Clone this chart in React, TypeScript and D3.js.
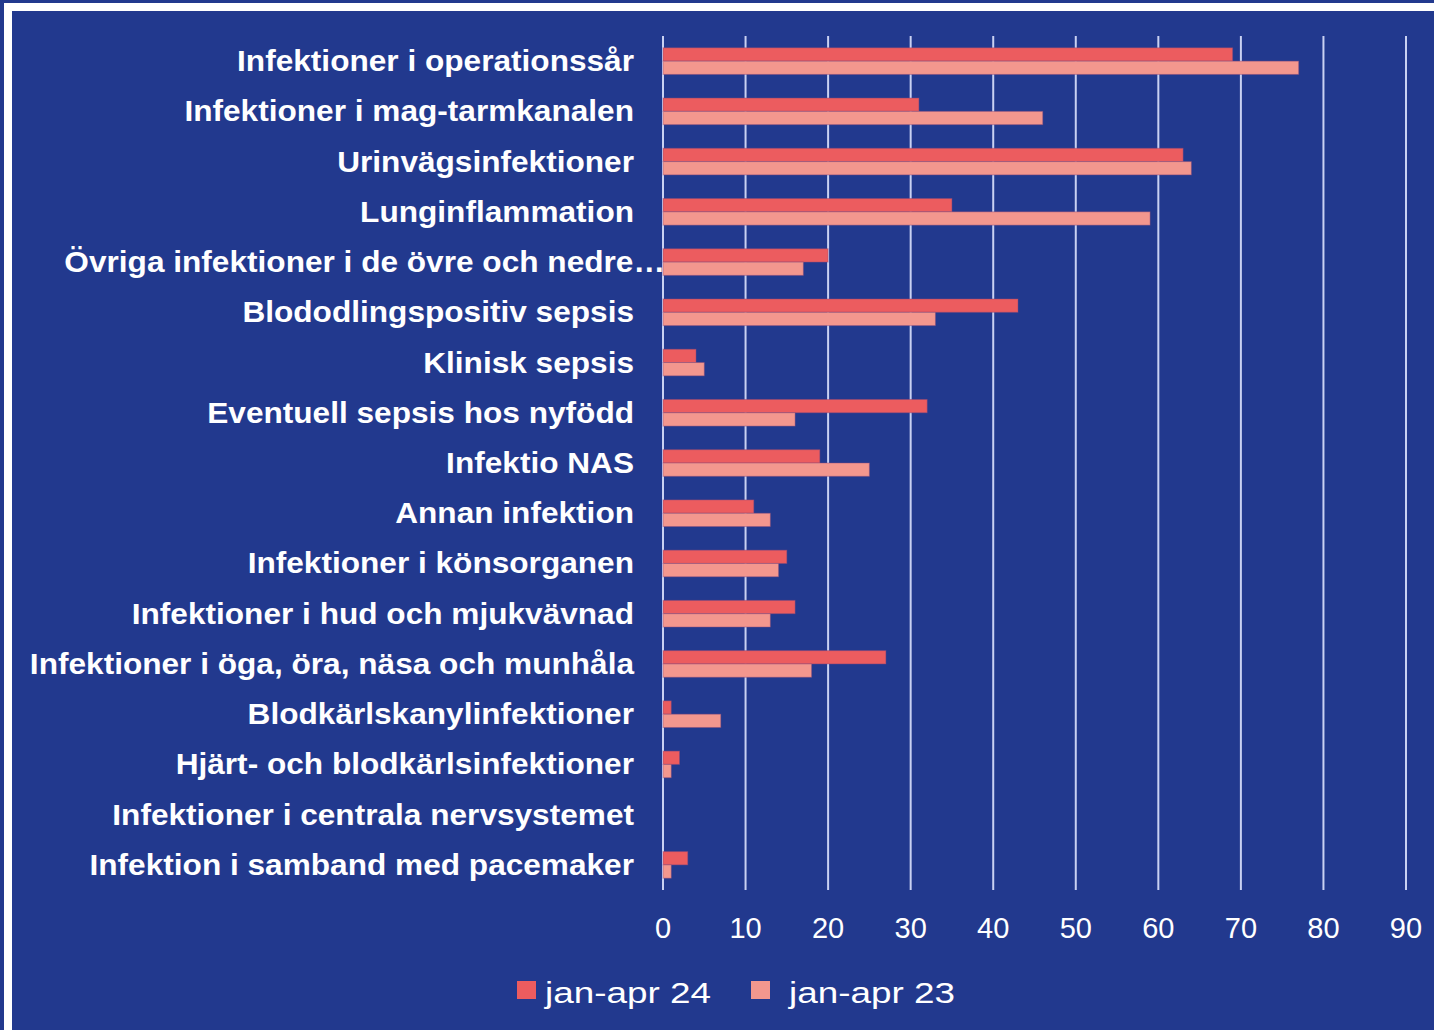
import React from "react";
import * as d3 from "d3";

const categories = [
  "Infektioner i operationssår",
  "Infektioner i mag-tarmkanalen",
  "Urinvägsinfektioner",
  "Lunginflammation",
  "Övriga infektioner i de övre och nedre…",
  "Blododlingspositiv sepsis",
  "Klinisk sepsis",
  "Eventuell sepsis hos nyfödd",
  "Infektio NAS",
  "Annan infektion",
  "Infektioner i könsorganen",
  "Infektioner i hud och mjukvävnad",
  "Infektioner i öga, öra, näsa och munhåla",
  "Blodkärlskanylinfektioner",
  "Hjärt- och blodkärlsinfektioner",
  "Infektioner i centrala nervsystemet",
  "Infektion i samband med pacemaker",
];

const values24 = [69, 31, 63, 35, 20, 43, 4, 32, 19, 11, 15, 16, 27, 1, 2, 0, 3];
const values23 = [77, 46, 64, 59, 17, 33, 5, 16, 25, 13, 14, 13, 18, 7, 1, 0, 1];

const seriesNames = ["jan-apr 24", "jan-apr 23"];
const tickValues = [0, 10, 20, 30, 40, 50, 60, 70, 80, 90];

const W = 1434;
const H = 1030;
const BG = "#22398e";
const RED = "#ec5c5f";
const PINK = "#f3978e";
const GRID = "#c9d1f2";
const FONT = "'Liberation Sans', Arial, sans-serif";

export default function App() {
  const x = d3.scaleLinear().domain([0, 90]).range([663, 1406]);
  const y = d3.scaleBand<string>().domain(categories).range([36, 890]).padding(0);
  const step = y.bandwidth();
  const barH = step * 0.265;

  return (
    <svg
      width={W}
      height={H}
      style={{ position: "absolute", left: 0, top: 0, display: "block" }}
    >
      <rect x={0} y={0} width={W} height={H} fill={BG} />
      <rect x={8} y={7} width={W + 20} height={H + 20} fill="none" stroke="#ffffff" strokeWidth={8} />

      {tickValues.map((t) => (
        <line key={"g" + t} x1={x(t)} x2={x(t)} y1={36} y2={890} stroke={GRID} strokeWidth={2} />
      ))}

      {categories.map((c, i) => {
        const cy = (y(c) as number) + step / 2;
        return (
          <g key={c}>
            {values24[i] > 0 && (
              <rect
                x={x(0)}
                y={cy - barH}
                width={x(values24[i]) - x(0)}
                height={barH}
                fill={RED}
                stroke="#8a4a7a"
                strokeOpacity={0.45}
                strokeWidth={1}
              />
            )}
            {values23[i] > 0 && (
              <rect
                x={x(0)}
                y={cy}
                width={x(values23[i]) - x(0)}
                height={barH}
                fill={PINK}
                stroke="#8a4a7a"
                strokeOpacity={0.45}
                strokeWidth={1}
              />
            )}
          </g>
        );
      })}

      {categories.map((c, i) => {
        const cy = (y(c) as number) + step / 2;
        const ax = i === 4 ? 665 : 634;
        return (
          <text
            key={"l" + c}
            transform={`translate(${ax},${cy + 10}) scale(1.09,1)`}
            textAnchor="end"
            fill="#ffffff"
            fontFamily={FONT}
            fontWeight="bold"
            fontSize={29}
          >
            {c}
          </text>
        );
      })}

      {tickValues.map((t) => (
        <text
          key={"t" + t}
          x={x(t)}
          y={938}
          textAnchor="middle"
          fill="#ffffff"
          fontFamily={FONT}
          fontSize={29}
        >
          {t}
        </text>
      ))}

      <rect x={517} y={981} width={19} height={18} fill={RED} />
      <text x={545} y={1003} fill="#ffffff" fontFamily={FONT} fontSize={30} textLength={166} lengthAdjust="spacingAndGlyphs">
        {seriesNames[0]}
      </text>
      <rect x={751} y={981} width={19} height={18} fill={PINK} />
      <text x={789} y={1003} fill="#ffffff" fontFamily={FONT} fontSize={30} textLength={166} lengthAdjust="spacingAndGlyphs">
        {seriesNames[1]}
      </text>
    </svg>
  );
}
